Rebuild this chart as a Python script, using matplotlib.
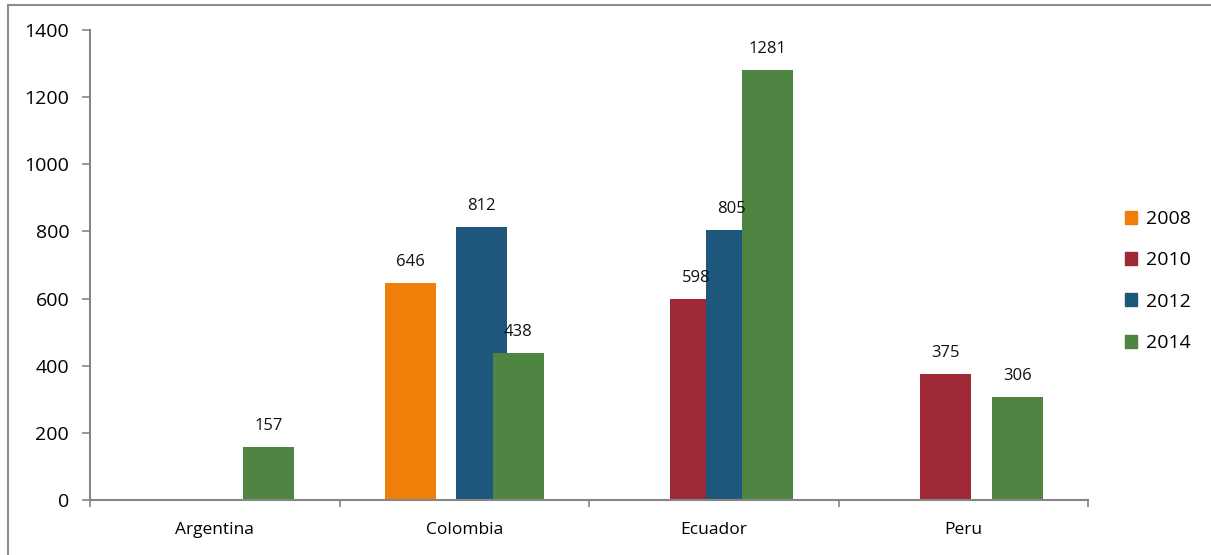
import numpy as np
import matplotlib.pyplot as plt
from matplotlib.lines import Line2D

# data
countries = ['Argentina', 'Colombia', 'Ecuador', 'Peru']
years = ['2008', '2010', '2012', '2014']
v2008 = [None, 646, None, None]
v2010 = [None, None, 598, 375]
v2012 = [None, 812, 805, None]
v2014 = [157, 438, 1281, 306]
yticks = [0, 200, 400, 600, 800, 1000, 1200, 1400]

series = [v2008, v2010, v2012, v2014]
colors = ['#F07F09', '#9F2936', '#1E577C', '#4E8542']
offsets = [-0.217, -0.072, 0.07, 0.217]
width = 0.205

plt.rcParams['font.family'] = ['Open Sans', 'DejaVu Sans']

fig = plt.figure(figsize=(12.11, 5.55), dpi=100)
ax = fig.add_axes([90 / 1211, 55 / 555, 998 / 1211, 470 / 555])

x = np.arange(len(countries))
for vals, col, off, yr in zip(series, colors, offsets, years):
    for i, v in enumerate(vals):
        if v is None:
            continue
        ax.bar(x[i] + off, v, width=width, color=col, zorder=2)
        ax.annotate(str(v), (x[i] + off, v), xytext=(0, 13),
                    textcoords='offset pixels', ha='center', va='bottom',
                    fontsize=12, color='#111111', zorder=3)

ax.set_xlim(-0.5, len(countries) - 0.5)
ax.set_ylim(0, 1400)
ax.set_yticks(yticks)
ax.set_yticklabels([str(t) for t in yticks], fontsize=14)

ax.set_xticks(x)
ax.set_xticklabels(countries, fontsize=12.5)
ax.set_xticks(np.arange(len(countries) + 1) - 0.5, minor=True)
ax.tick_params(axis='x', which='major', length=0, pad=16)
ax.tick_params(axis='x', which='minor', length=5, width=1.2,
               color='#868686', direction='out')
ax.tick_params(axis='y', length=6, width=1.2, color='#868686',
               direction='out', pad=9)

for s in ['top', 'right']:
    ax.spines[s].set_visible(False)
for s in ['left', 'bottom']:
    ax.spines[s].set_color('#868686')
    ax.spines[s].set_linewidth(1.5)

# legend
handles = [plt.Rectangle((0, 0), 1, 1, color=c) for c in colors]
fig.legend(handles, years, loc='center left',
           bbox_to_anchor=(1107 / 1211, 1 - 281 / 555), frameon=False,
           fontsize=14, handlelength=0.65, handleheight=0.65,
           handletextpad=0.45, labelspacing=1.2)

# outer chart border (partly cut off in the reference)
fig.add_artist(Line2D([8 / 1211, 8 / 1211], [0, 1 - 5 / 555],
                      transform=fig.transFigure, color='#8c8c8c', lw=1.5))
fig.add_artist(Line2D([8 / 1211, 1], [1 - 5 / 555, 1 - 5 / 555],
                      transform=fig.transFigure, color='#8c8c8c', lw=1.5))

fig.savefig('out.png', dpi=100)
